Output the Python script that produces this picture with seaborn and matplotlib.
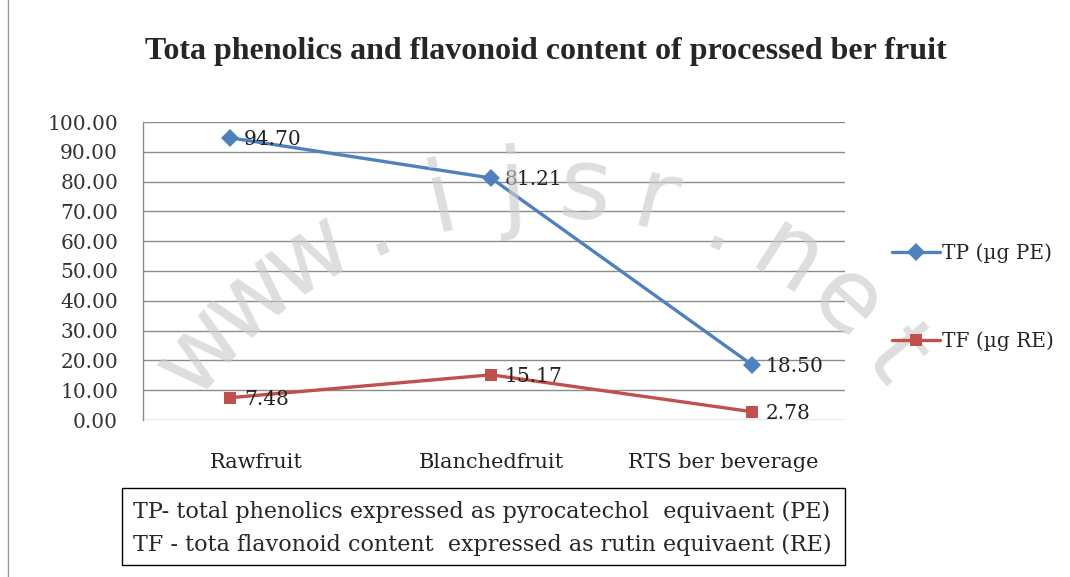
import numpy as np
import pandas as pd
import matplotlib
matplotlib.use("Agg")
import matplotlib.pyplot as plt
import seaborn as sns
from matplotlib.patches import Rectangle
from matplotlib.lines import Line2D

# datos
etapas = ["Raw fruit", "Blanched fruit", "RTS ber beverage"]
etiquetas_x = ["Rawfruit", "Blanchedfruit", "RTS ber beverage"]
tp_valores = [94.70, 81.21, 18.50]
tf_valores = [7.48, 15.17, 2.78]
series = ["TP (\u00b5g PE)", "TF (\u00b5g RE)"]
colores = ["#4F81BD", "#C0504D"]
marcadores = ["D", "s"]
yticks = [0, 10, 20, 30, 40, 50, 60, 70, 80, 90, 100]

df = pd.DataFrame({
    "pos": list(range(len(etapas))) * 2,
    "valor": tp_valores + tf_valores,
    "serie": [series[0]] * 3 + [series[1]] * 3,
})

sns.set_style("white")
plt.rcParams["font.family"] = ["DejaVu Serif"]
fs = 14.5

fig = plt.figure(figsize=(10.7, 5.77), dpi=100)
ax = fig.add_axes([143 / 1070, 1 - 420 / 577, (845 - 143) / 1070, (420 - 122) / 577])

# marca de agua (texto en arco)
txt = "www.ijsr.net"
cx, cy, r = 545, 640, 450
angs = np.linspace(-50, 51, len(txt))
for ch, a in zip(txt, angs):
    x = cx + r * np.sin(np.radians(a))
    y = cy - r * np.cos(np.radians(a))
    fig.text(x / 1070, 1 - y / 577, ch, fontsize=72, color="#cccccc",
             rotation=-a, ha="center", va="center", family="DejaVu Sans",
             zorder=0.5, alpha=0.65)

sns.lineplot(data=df, x="pos", y="valor", hue="serie", style="serie",
             palette=colores, markers=marcadores, dashes=False,
             linewidth=2.4, markersize=9, markeredgewidth=0,
             legend=False, ax=ax, zorder=3)

for vals in (tp_valores, tf_valores):
    for i, v in enumerate(vals):
        ax.annotate(f"{v:.2f}", (i, v), xytext=(10, -1), textcoords="offset points",
                    va="center", ha="left", fontsize=fs, color="#222222", zorder=4)

ax.set_xlim(-0.333, 2.356)
ax.set_ylim(0, 100)
ax.set_yticks(yticks)
ax.set_yticklabels([f"{t:.2f}" for t in yticks], fontsize=fs, color="#333333")
# las etiquetas de categoria no quedan centradas bajo los puntos en el original
ax.set_xticks([0.10, 1.0, 1.89])
ax.set_xticklabels(etiquetas_x, fontsize=15, color="#222222")
ax.tick_params(axis="x", length=0, pad=24)
ax.tick_params(axis="y", length=0, pad=18)
ax.set_xlabel("")
ax.set_ylabel("")
ax.yaxis.grid(True, color="#8c8c8c", linewidth=1)
ax.set_axisbelow(True)
for lado in ["top", "right", "bottom"]:
    ax.spines[lado].set_visible(False)
ax.spines["left"].set_color("#8c8c8c")
ax.spines["left"].set_linewidth(1)
ax.patch.set_alpha(0)

fig.text(546 / 1070, 1 - 52 / 577,
         "Tota phenolics and flavonoid content of processed ber fruit",
         ha="center", va="center", fontsize=23, fontweight="bold",
         family="Liberation Serif")

# leyenda a la derecha
handles = [Line2D([], [], color=c, marker=m, linewidth=2.4, markersize=9,
                  markeredgewidth=0) for c, m in zip(colores, marcadores)]
fig.legend(handles, series, loc="center left",
           bbox_to_anchor=(874 / 1070, 1 - 297 / 577), frameon=False,
           fontsize=fs, labelspacing=3.4, handlelength=2.4, handletextpad=0.1)

# cuadro de notas inferior
fig.patches.append(Rectangle((122 / 1070, 1 - 565 / 577), (845 - 122) / 1070,
                             (565 - 488) / 577, transform=fig.transFigure,
                             fill=False, edgecolor="black", linewidth=1))
fig.text(133 / 1070, 1 - 512 / 577,
         "TP- total phenolics expressed as pyrocatechol  equivaent (PE)",
         ha="left", va="center", fontsize=16)
fig.text(133 / 1070, 1 - 545 / 577,
         "TF - tota flavonoid content  expressed as rutin equivaent (RE)",
         ha="left", va="center", fontsize=16)

# borde izquierdo de la figura
fig.add_artist(Line2D([8 / 1070, 8 / 1070], [0, 1], transform=fig.transFigure,
                      color="#9a9a9a", linewidth=1))

fig.savefig("out.png", dpi=100)
